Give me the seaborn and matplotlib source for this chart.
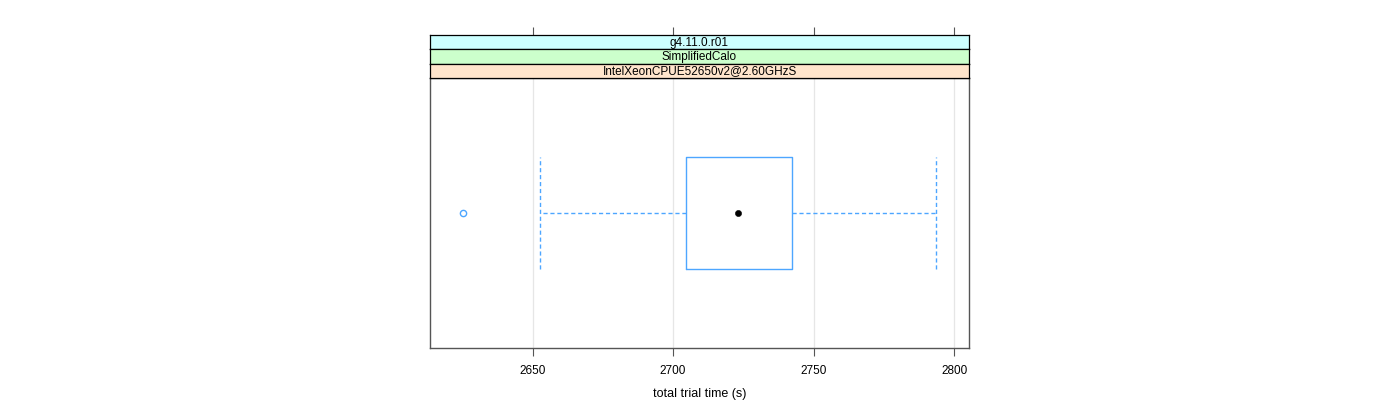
import matplotlib
matplotlib.use("Agg")
import matplotlib.pyplot as plt
import seaborn as sns

# Summary statistics (total trial time, seconds)
category = ["IntelXeonCPUE52650v2@2.60GHzS"]
whisker_low = [2652.7]
q1 = [2704.6]
median = [2723.1]
q3 = [2742.3]
whisker_high = [2793.6]
outliers = [[2625.3]]
strip_labels = ["g4.11.0.r01", "SimplifiedCalo", "IntelXeonCPUE52650v2@2.60GHzS"]
x_ticks = [2650, 2700, 2750, 2800]
x_label = "total trial time (s)"

sns.set_style("white")
plt.rcParams['font.family'] = ['Liberation Sans', 'DejaVu Sans']
plt.rcParams['text.color'] = 'black'
plt.rcParams['axes.labelcolor'] = 'black'
plt.rcParams['xtick.color'] = 'black'
plt.rcParams['ytick.color'] = 'black'

BLUE = "#4da6ff"
FRAME = "#555555"
XLIM = (2613.5, 2805.3)

fig = plt.figure(figsize=(14, 4), dpi=100)
L, R = 430 / 1400, 969 / 1400
ax = fig.add_axes([L, 1 - 348 / 400, R - L, (348 - 78) / 400])

stats = []
for i in range(len(category)):
    stats.append(dict(label=category[i], whislo=whisker_low[i], q1=q1[i], med=median[i],
                      q3=q3[i], whishi=whisker_high[i], fliers=outliers[i]))

ax.bxp(stats, positions=[0], vert=False, widths=0.415, showcaps=True, showfliers=True,
       boxprops=dict(color=BLUE, linewidth=1.0),
       whiskerprops=dict(color=BLUE, linewidth=1.0, linestyle=(0, (3, 2))),
       capprops=dict(color=BLUE, linewidth=1.0, linestyle=(0, (3, 2))),
       capwidths=0.415,
       medianprops=dict(linewidth=0),
       flierprops=dict(marker='o', markersize=4.5, markerfacecolor='none',
                       markeredgecolor=BLUE, markeredgewidth=1.0))
sns.scatterplot(x=median, y=[0] * len(median), ax=ax, color='black', s=20,
                edgecolor='black', zorder=5, legend=False)

ax.set_xlim(*XLIM)
ax.set_ylim(-0.5, 0.5)
ax.set_yticks([])
ax.set_xticks(x_ticks)
ax.set_xticklabels([str(t) for t in x_ticks], fontsize=8.5, color='black')
ax.tick_params(axis='x', direction='out', length=6, width=0.8, color=FRAME, pad=6, bottom=True)
for t in x_ticks:
    ax.axvline(t, color="#e6e6e6", linewidth=0.9, zorder=0)
for s in ax.spines.values():
    s.set_visible(True)
    s.set_color(FRAME)
    s.set_linewidth(1.0)
ax.set_xlabel(x_label, fontsize=9, labelpad=8, color='black')
ax.set_ylabel("")

strip_colors = ["#ccffff", "#ccffcc", "#ffe5cc"]
tops = [35, 49, 63.5]
bots = [49, 63.5, 78]
for j, (lab, col) in enumerate(zip(strip_labels, strip_colors)):
    sax = fig.add_axes([L, 1 - bots[j] / 400, R - L, (bots[j] - tops[j]) / 400])
    sax.set_facecolor(col)
    sax.set_xlim(*XLIM)
    sax.set_ylim(0, 1)
    sax.set_yticks([])
    if j == 0:
        sax.set_xticks(x_ticks)
        sax.xaxis.set_ticks_position('top')
        sax.tick_params(axis='x', direction='out', length=6, width=0.8, color=FRAME,
                        labeltop=False, labelbottom=False, top=True, bottom=False)
    else:
        sax.set_xticks([])
    for s in sax.spines.values():
        s.set_visible(True)
        s.set_color("black")
        s.set_linewidth(0.9)
    sax.text(0.5, 0.45, lab, transform=sax.transAxes, ha='center', va='center',
             fontsize=8.5, color='black')

fig.savefig("out.png", dpi=100)
